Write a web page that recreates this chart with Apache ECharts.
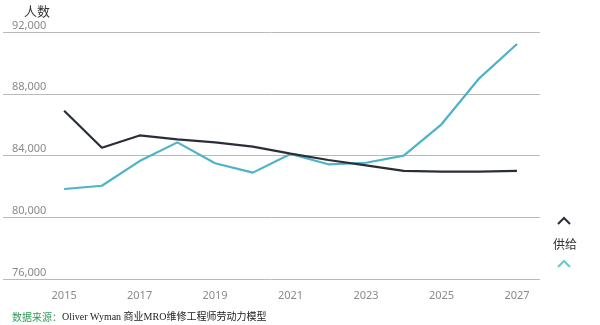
<!DOCTYPE html>
<html>
<head>
<meta charset="utf-8">
<script src="https://cdn.jsdelivr.net/npm/echarts@6/dist/echarts.min.js"></script>
<style>
  html, body { margin: 0; padding: 0; background: #fff; }
  #chart { width: 600px; height: 325px; }
</style>
</head>
<body>
<div id="chart"></div>
<script>
// Years on the horizontal axis
const years = [2015, 2016, 2017, 2018, 2019, 2020, 2021, 2022, 2023, 2024, 2025, 2026, 2027];
// Labelled years (every second year)
const yearTicks = [2015, 2017, 2019, 2021, 2023, 2025, 2027];
// Dark series
const darkValues = [86900, 84500, 85300, 85050, 84850, 84570, 84120, 83710, 83360, 83000, 82950, 82950, 83010];
// Teal series
const tealValues = [81830, 82040, 83640, 84850, 83500, 82890, 84100, 83430, 83530, 83990, 86020, 89000, 91220];
// Vertical axis ticks
const yTicks = [76000, 80000, 84000, 88000, 92000];

const pairs = (vals) => years.map((y, i) => [y, vals[i]]);

const chart = echarts.init(document.getElementById('chart'), null, { renderer: 'canvas' });

const labelFont = '"Noto Sans", "Open Sans", sans-serif';

chart.setOption({
  animation: false,
  backgroundColor: '#ffffff',
  grid: { left: 3, right: 60, top: 32, bottom: 46, containLabel: false },
  xAxis: {
    type: 'value',
    min: 2013.38,
    max: 2027.61,
    axisLine: { show: false },
    axisTick: { show: false },
    splitLine: { show: false },
    axisLabel: {
      customValues: yearTicks,
      color: '#8a8a8a',
      fontSize: 11,
      fontFamily: labelFont,
      margin: 11,
      formatter: (v) => String(v)
    }
  },
  yAxis: {
    type: 'value',
    min: yTicks[0],
    max: yTicks[yTicks.length - 1],
    interval: 4000,
    axisLine: { show: false },
    axisTick: { show: false },
    splitLine: { show: true, lineStyle: { color: '#bababa', width: 1 } },
    axisLabel: {
      inside: true,
      margin: 9,
      verticalAlign: 'bottom',
      padding: [0, 0, 1, 0],
      color: '#8a8a8a',
      fontSize: 11,
      fontFamily: labelFont,
      formatter: (v) => v.toLocaleString('en-US')
    }
  },
  series: [
    {
      name: '需求',
      type: 'line',
      data: pairs(darkValues),
      symbol: 'none',
      lineStyle: { color: '#2a2f37', width: 2.2 },
      z: 3
    },
    {
      name: '供给',
      type: 'line',
      data: pairs(tealValues),
      symbol: 'none',
      lineStyle: { color: '#4db3c6', width: 2.2 },
      z: 2
    }
  ],
  graphic: [
    {
      type: 'text',
      left: 24,
      top: 5,
      style: { text: '人数', fill: '#333333', fontSize: 13, fontFamily: '"Noto Sans CJK SC", sans-serif' }
    },
    // legend markers on the right
    {
      type: 'polyline',
      shape: { points: [[558, 224], [564, 218], [570, 224]] },
      style: { stroke: '#2a2f37', lineWidth: 2, fill: null }
    },
    {
      type: 'text',
      left: 553,
      top: 238,
      style: { text: '供给', fill: '#333333', fontSize: 12, fontFamily: '"Noto Sans CJK SC", sans-serif' }
    },
    {
      type: 'polyline',
      shape: { points: [[558, 267], [564, 261], [570, 267]] },
      style: { stroke: '#6cc6d2', lineWidth: 2, fill: null }
    },
    // source note
    {
      type: 'text',
      left: 12,
      top: 312,
      style: {
        text: '{a|数据来源：}{b|Oliver Wyman 商业MRO维修工程师劳动力模型}',
        rich: {
          a: { fill: '#2f9a58', fontSize: 10, fontFamily: '"Noto Sans CJK SC", sans-serif' },
          b: { fill: '#222222', fontSize: 10, fontFamily: '"Liberation Serif", "Noto Sans CJK SC", serif' }
        }
      }
    }
  ]
});
</script>
</body>
</html>
